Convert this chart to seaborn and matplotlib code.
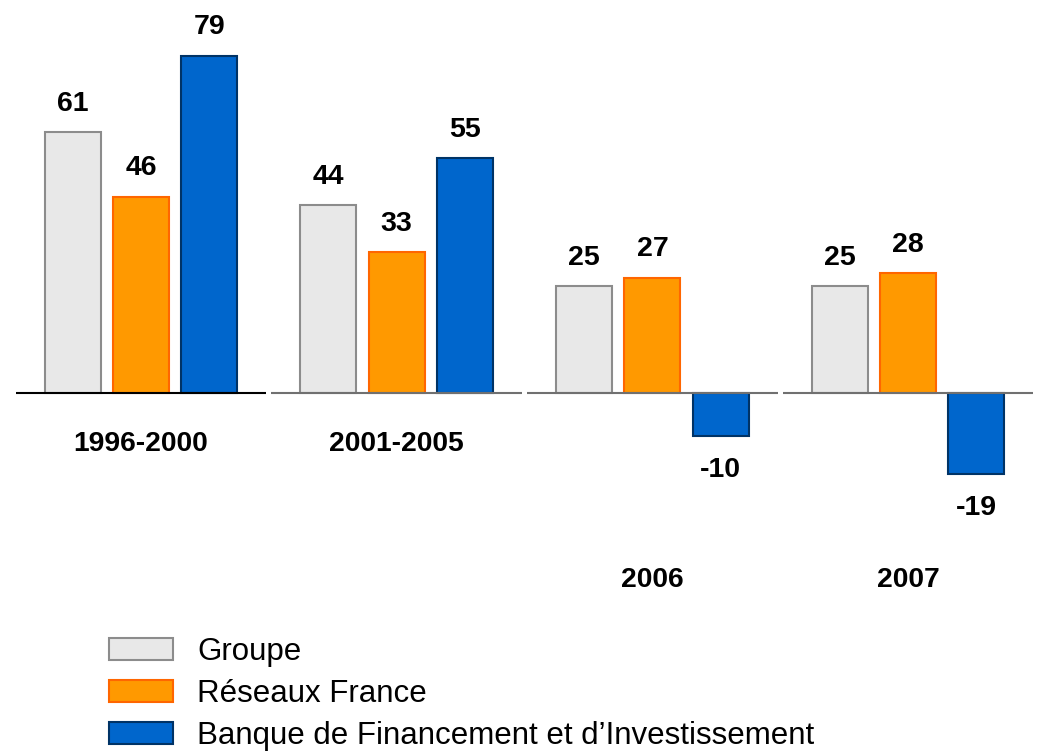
import matplotlib
matplotlib.use("Agg")
import matplotlib.pyplot as plt
from matplotlib.patches import Patch
import pandas as pd
import seaborn as sns

# data
periodes = ["1996-2000", "2001-2005", "2006", "2007"]
segments = ["Groupe", "Réseaux France", "Banque de Financement et d’Investissement"]
groupe = [61, 44, 25, 25]
reseaux = [46, 33, 27, 28]
bfi = [79, 55, -10, -19]

fills = ["#E8E8E8", "#FF9900", "#0066CC"]
edges = ["#8C8C8C", "#FF6600", "#003366"]

df = pd.DataFrame({
    "periode": periodes * 3,
    "segment": [s for s in segments for _ in periodes],
    "valeur": groupe + reseaux + bfi,
})

sns.set_theme(style="white")
plt.rcParams["font.family"] = ["Liberation Sans", "DejaVu Sans"]
plt.rcParams["text.color"] = "black"

fig = plt.figure(figsize=(10.37, 7.54), dpi=100)
ax = fig.add_axes([0, 0, 1, 1])

sns.barplot(data=df, x="periode", y="valeur", hue="segment",
            order=periodes, hue_order=segments, palette=fills,
            saturation=1, width=0.8, gap=0.18, legend=False, ax=ax)

for bars, edge in zip(ax.containers, edges):
    for p in bars:
        p.set_edgecolor(edge)
        p.set_linewidth(1.5)
        v = p.get_height()
        off = 20.5 if v >= 0 else -24.5
        ax.annotate(f"{v:.0f}", (p.get_x() + p.get_width() / 2, v),
                    xytext=(0, off), textcoords="offset points",
                    ha="center", va="center", fontsize=20.5, fontweight="bold",
                    color="black")

# separate baseline under each group
line_colors = ["#000000", "#707070", "#707070", "#707070"]
for i, c in enumerate(line_colors):
    ax.hlines(0, i - 0.49, i + 0.49, colors=c, linewidth=1.5, zorder=3)

# period labels
label_y = [-12.0, -12.0, -43.8, -43.8]
for i, (lab, y) in enumerate(zip(periodes, label_y)):
    ax.text(i, y, lab, ha="center", va="center", fontsize=20.3,
            fontweight="bold", color="black")

ax.set_xlim(-0.551, 3.504)
ax.set_ylim(-84.5, 92.0)
ax.set_axis_off()

handles = [Patch(facecolor=f, edgecolor=e, linewidth=1.5) for f, e in zip(fills, edges)]
fig.legend(handles, segments, loc="upper left",
           bbox_to_anchor=(109 / 1037, 1 - 637 / 754),
           frameon=False, fontsize=22.5, handlelength=2.05, handleheight=0.73,
           handletextpad=0.77, labelspacing=0.38, borderpad=0, borderaxespad=0,
           labelcolor="black")

fig.savefig("out.png", dpi=100)
